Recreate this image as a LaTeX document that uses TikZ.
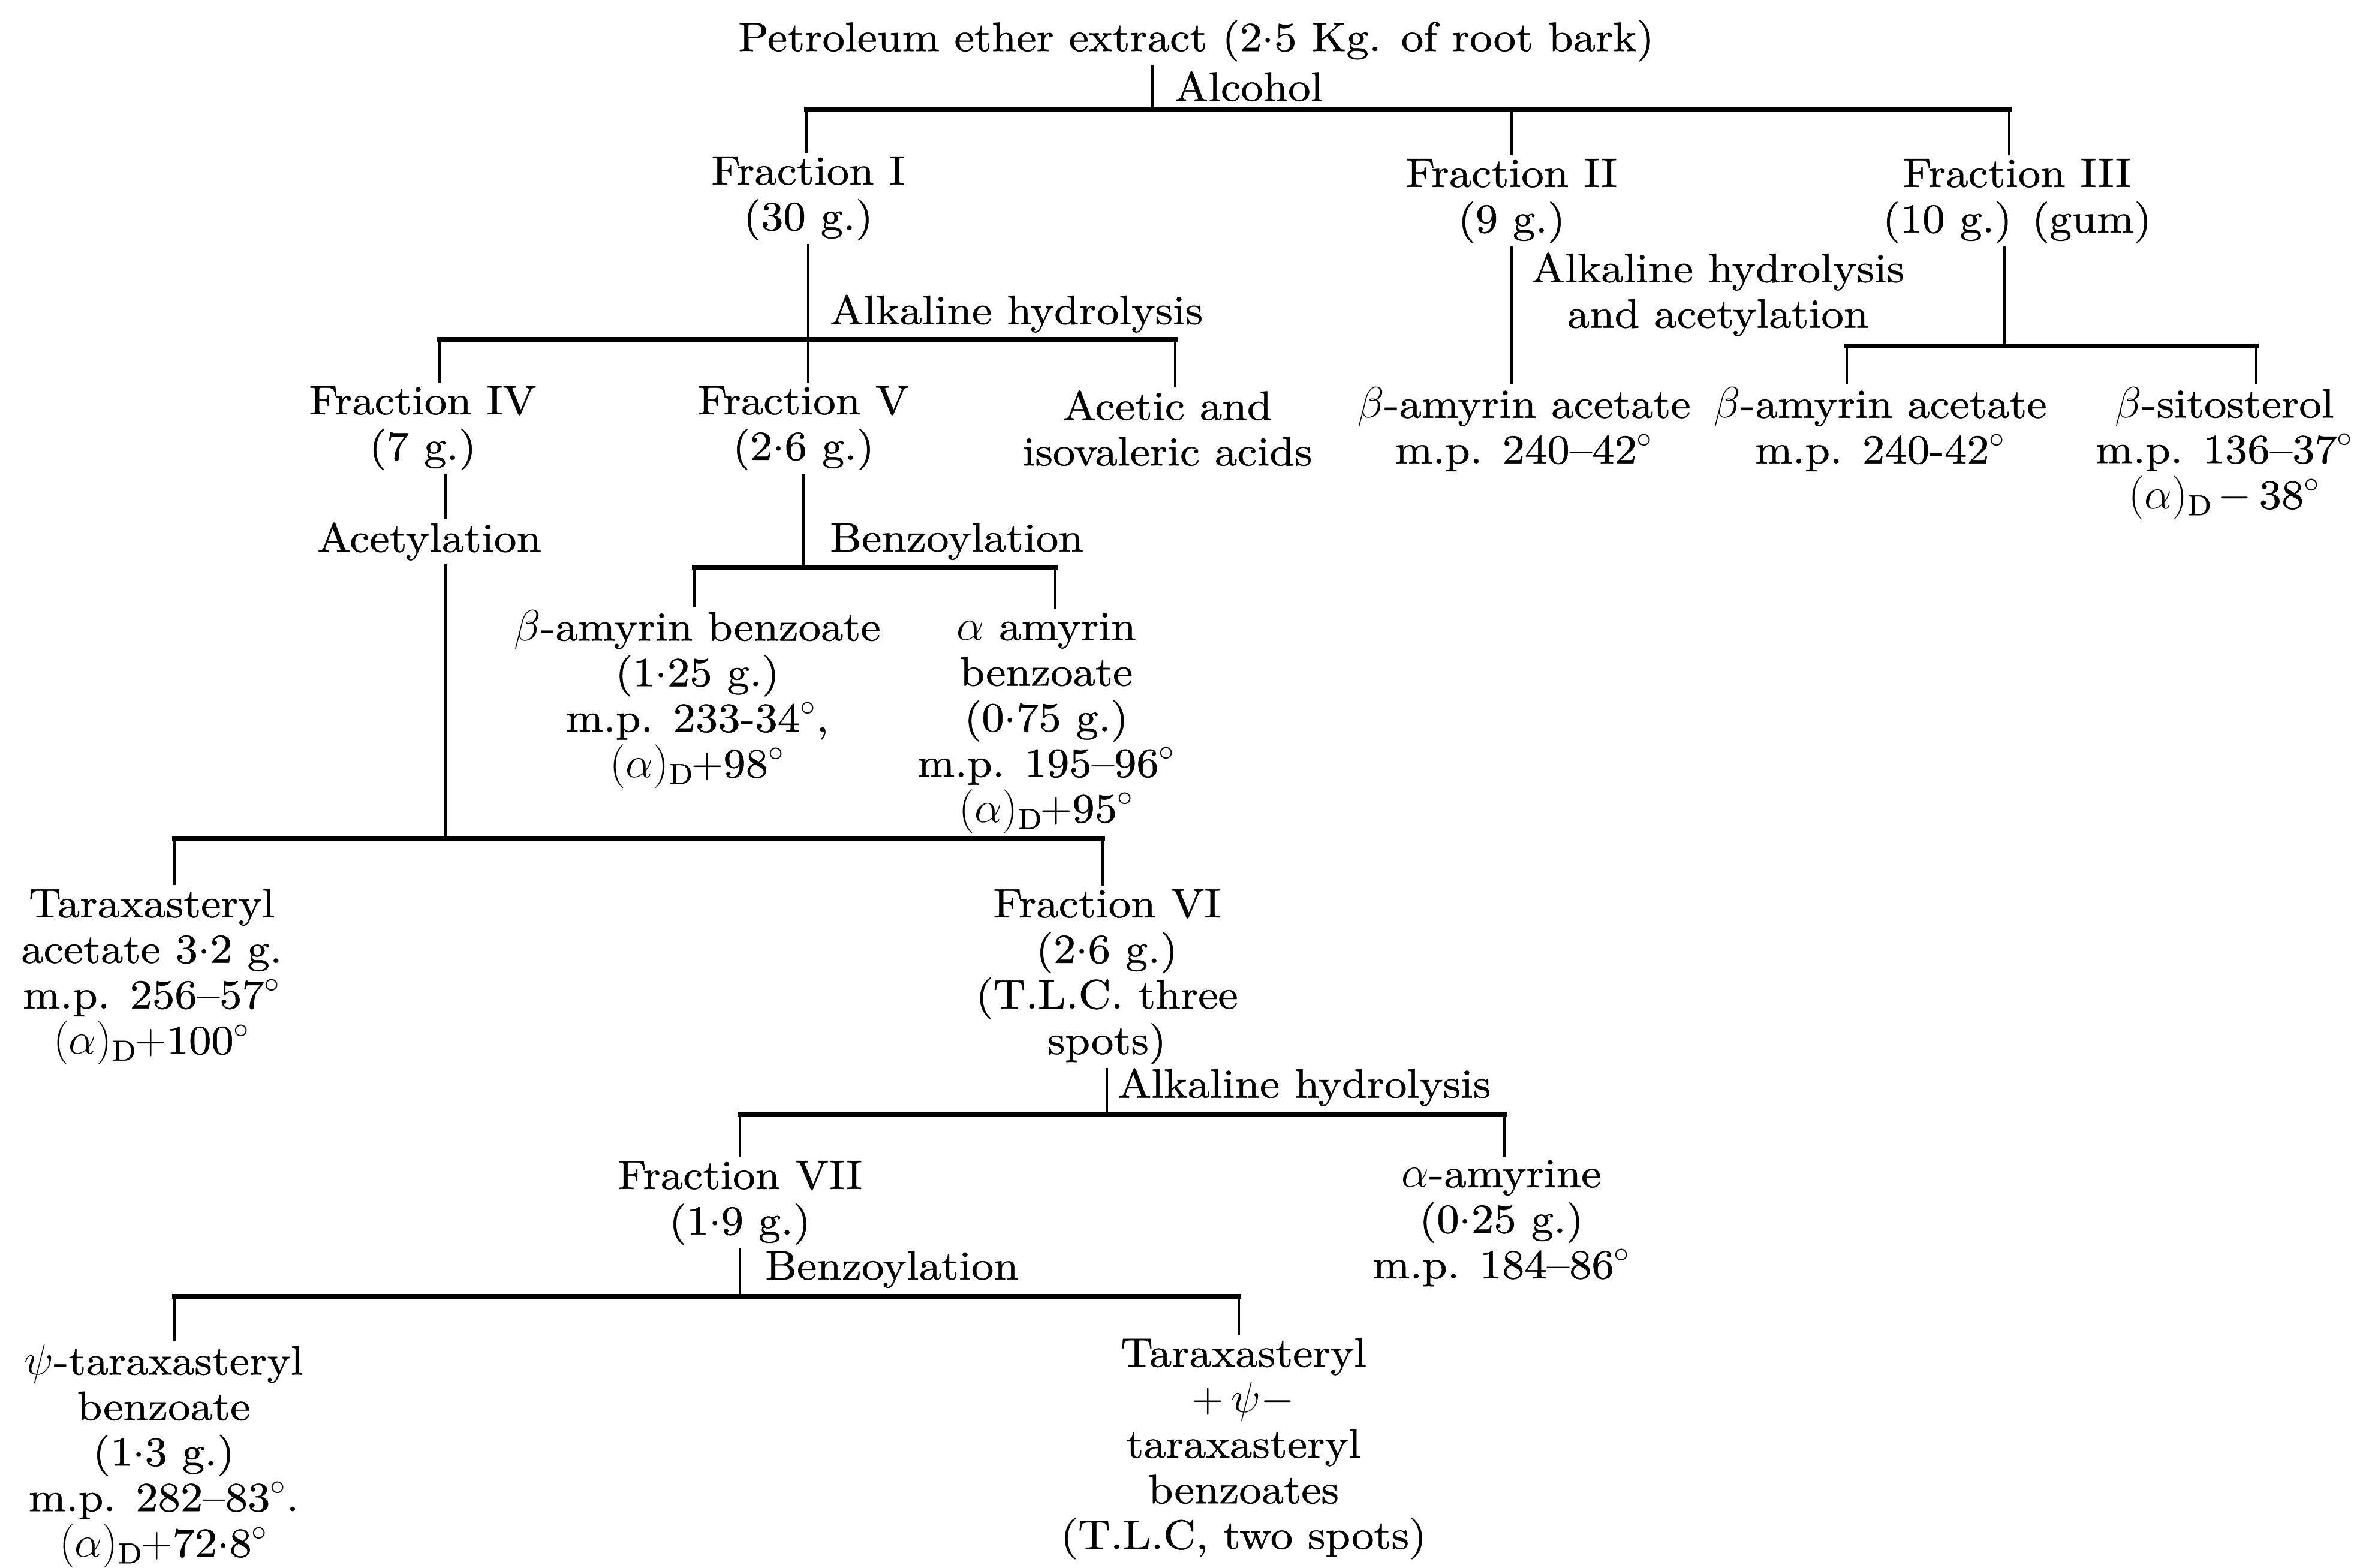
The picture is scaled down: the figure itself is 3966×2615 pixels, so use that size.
\documentclass[tikz,border=0pt]{standalone}
\usepackage{amsmath,amssymb}
\usepackage{fontspec}
\setmainfont{lmroman10-regular.otf}[FakeStretch=1.09,FakeBold=0.7]
\usepackage{tikz}
\usetikzlibrary{calc}
\tikzset{
  txt/.style={align=center,inner sep=1.5pt},
  lbl/.style={anchor=west,inner sep=1pt},
  stem/.style={line width=1.1pt},
  bar/.style={line width=2.3pt,line cap=rect},
}
\newcommand{\rot}{$(\alpha)_{\mathrm{D}}$}
\newcommand{\dg}{$^\circ$}

\begin{document}
\begin{tikzpicture}[x=0.01cm,y=-0.01cm,font=\fontsize{19.5}{21.6}\selectfont]
  \useasboundingbox (0,0) rectangle (3966,2615);
  \node[txt] (pe) at (1995,68) {Petroleum ether extract (2$\cdot$5 Kg. of root bark)};
  \node[lbl] (alc) at (1955,144) {Alcohol};
  \node[txt] (f1) at (1348,331) {Fraction I\\(30 g.)};
  \node[txt] (f2) at (2521,335) {Fraction II\\(9 g.)};
  \node[txt] (f3) at (3364,335) {Fraction III\\(10 g.) (gum)};
  \node[lbl] (ah1) at (1380,523) {Alkaline hydrolysis};
  \node[txt] (ah2) at (2865,491) {Alkaline hydrolysis\\and acetylation};
  \node[txt] (f4) at (705,714) {Fraction IV\\(7 g.)};
  \node[txt] (f5) at (1340,714) {Fraction V\\(2$\cdot$6 g.)};
  \node[txt] (acid) at (1947,714) {Acetic and\\isovaleric acids};
  \node[txt] (ba1) at (2542,716) {$\beta$-amyrin acetate\\m.p. 240--42\dg};
  \node[txt] (ba2) at (3136,716) {$\beta$-amyrin acetate\\m.p. 240-42\dg};
  \node[txt] (bsit) at (3710,756) {$\beta$-sitosterol\\m.p. 136--37\dg\\\rot$\,-\,$38\dg};
  \node[txt] (acet) at (716,903) {Acetylation};
  \node[lbl] (bz1) at (1380,903) {Benzoylation};
  \node[txt] (bb) at (1163,1166) {$\beta$-amyrin benzoate\\(1$\cdot$25 g.)\\m.p. 233-34\dg,\\\rot$+$98\dg};
  \node[txt] (ab) at (1745,1206) {$\alpha$ amyrin\\benzoate\\(0$\cdot$75 g.)\\m.p. 195--96\dg\\\rot$+$95\dg};
  \node[txt] (ta) at (253,1629) {Taraxasteryl\\acetate 3$\cdot$2 g.\\m.p. 256--57\dg\\\rot$+$100\dg};
  \node[txt] (f6) at (1846,1629) {Fraction VI\\(2$\cdot$6 g.)\\(T.L.C. three\\spots)};
  \node[lbl] (ah3) at (1860,1813) {Alkaline hydrolysis};
  \node[txt] (f7) at (1234,2006) {Fraction VII\\(1$\cdot$9 g.)};
  \node[txt] (aa) at (2504,2040) {$\alpha$-amyrine\\(0$\cdot$25 g.)\\m.p. 184--86\dg};
  \node[lbl] (bz2) at (1272,2117) {Benzoylation};
  \node[txt] (pb) at (273,2428) {$\psi$-taraxasteryl\\benzoate\\(1$\cdot$3 g.)\\m.p. 282--83\dg.\\\rot$+$72$\cdot$8\dg};
  \node[txt] (tb) at (2074,2416) {Taraxasteryl\\$+\,\psi-$\\taraxasteryl\\benzoates\\(T.L.C, two spots)};
  \coordinate (s1) at (1922,182);
  \coordinate (b1l) at (1345,182);
  \coordinate (b1r) at (3351,182);
  \coordinate (b2l) at (733,566);
  \coordinate (b2r) at (1960,566);
  \coordinate (s3) at (3343,577);
  \coordinate (b3l) at (3080,577);
  \coordinate (b3r) at (3763,577);
  \coordinate (b4l) at (1158,946);
  \coordinate (b4r) at (1760,946);
  \coordinate (s5) at (743,1399);
  \coordinate (b5l) at (291,1399);
  \coordinate (b5r) at (1839,1399);
  \coordinate (b6l) at (1234,1859);
  \coordinate (b6r) at (2509,1859);
  \coordinate (b7l) at (291,2162);
  \coordinate (b7r) at (2066,2162);
  \draw[bar] (b1l) -- (b1r);
  \draw[bar] (b2l) -- (b2r);
  \draw[bar] (b3l) -- (b3r);
  \draw[bar] (b4l) -- (b4r);
  \draw[bar] (b5l) -- (b5r);
  \draw[bar] (b6l) -- (b6r);
  \draw[bar] (b7l) -- (b7r);
  \draw[stem] (s1 |- pe.south) -- (s1);
  \draw[stem] (b1l) -- (b1l |- f1.north);
  \draw[stem] (f2.north |- b1l) -- (f2.north);
  \draw[stem] (b1r) -- (b1r |- f3.north);
  \draw[stem] (f1.south) -- (f1.south |- f5.north);
  \draw[stem] (b2l) -- (b2l |- f4.north);
  \draw[stem] (b2r) -- (b2r |- acid.north);
  \draw[stem] (f2.south) -- (f2.south |- ba1.north);
  \draw[stem] (s3 |- f3.south) -- (s3);
  \draw[stem] (b3l) -- (b3l |- ba2.north);
  \draw[stem] (b3r) -- (b3r |- bsit.north);
  \draw[stem] (s5 |- f4.south) -- (s5 |- acet.north);
  \draw[stem] (s5 |- acet.south) -- (s5);
  \draw[stem] (f5.south) -- (f5.south |- b4l);
  \draw[stem] (b4l) -- (b4l |- bb.north);
  \draw[stem] (b4r) -- (b4r |- ab.north);
  \draw[stem] (b5l) -- (b5l |- ta.north);
  \draw[stem] (b5r) -- (b5r |- f6.north);
  \draw[stem] (f6.south) -- (f6.south |- b6l);
  \draw[stem] (b6l) -- (b6l |- f7.north);
  \draw[stem] (b6r) -- (b6r |- aa.north);
  \draw[stem] (f7.south) -- (f7.south |- b7l);
  \draw[stem] (b7l) -- (b7l |- pb.north);
  \draw[stem] (b7r) -- (b7r |- tb.north);
\end{tikzpicture}
\end{document}
